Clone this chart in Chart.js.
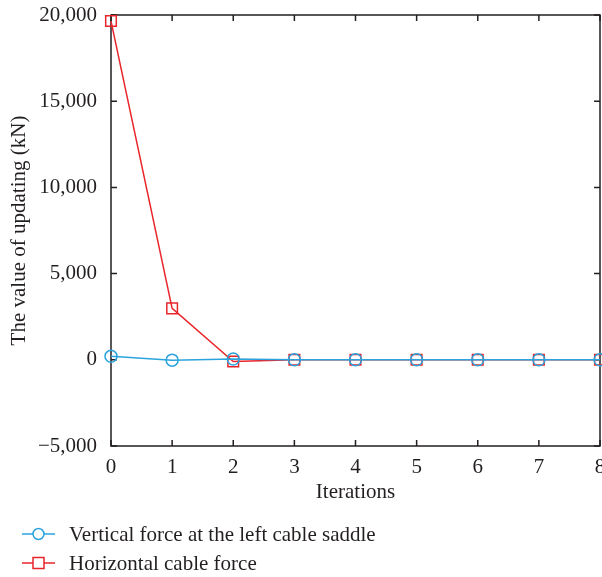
<!DOCTYPE html>
<html>
<head>
<meta charset="utf-8">
<script src="https://cdn.jsdelivr.net/npm/chart.js@4.4.0/dist/chart.umd.min.js"></script>
<style>
  html, body { margin: 0; padding: 0; background: #fff; }
  #wrap { width: 602px; height: 577px; }
</style>
</head>
<body>
<div id="wrap"><canvas id="updates" width="602" height="577"></canvas></div>
<script>
const iterations = [0, 1, 2, 3, 4, 5, 6, 7, 8];
const verticalSaddle = [200, -20, 50, 0, 0, 0, 0, 0, 0];
const horizontalCable = [19650, 2980, -100, 0, 0, 0, 0, 0, 0];
const yTicks = [-5000, 0, 5000, 10000, 15000, 20000];

const FONT = '"Liberation Serif", "DejaVu Serif", serif';
const INK = '#231f20';
const BLUE = '#2ba4de';
const RED = '#e8252b';

const toPoints = vals => iterations.map((x, i) => ({ x, y: vals[i] }));

// box frame with inward ticks on all four sides
const frameTicks = {
  id: 'frameTicks',
  beforeDatasetsDraw(chart) {
    const { ctx, chartArea: a, scales: { x, y } } = chart;
    const len = 6;
    ctx.save();
    ctx.strokeStyle = INK;
    ctx.lineWidth = 1.5;
    ctx.strokeRect(a.left, a.top, a.right - a.left, a.bottom - a.top);
    ctx.beginPath();
    iterations.forEach(v => {
      const px = x.getPixelForValue(v);
      ctx.moveTo(px, a.bottom); ctx.lineTo(px, a.bottom - len);
      ctx.moveTo(px, a.top); ctx.lineTo(px, a.top + len);
    });
    yTicks.forEach(v => {
      const py = y.getPixelForValue(v);
      ctx.moveTo(a.left, py); ctx.lineTo(a.left + len, py);
      ctx.moveTo(a.right, py); ctx.lineTo(a.right - len, py);
    });
    ctx.stroke();
    ctx.restore();
  }
};

// legend under the axis: line + marker + label
const sampleLegend = {
  id: 'sampleLegend',
  afterDraw(chart) {
    const { ctx } = chart;
    const rows = [534, 563];
    ctx.save();
    chart.data.datasets.forEach((ds, i) => {
      const cy = rows[i];
      ctx.strokeStyle = ds.borderColor;
      ctx.lineWidth = 1.5;
      ctx.beginPath();
      ctx.moveTo(22, cy); ctx.lineTo(55, cy);
      ctx.stroke();
      ctx.beginPath();
      if (ds.pointStyle === 'rect') {
        ctx.rect(33, cy - 5.5, 11, 11);
      } else {
        ctx.arc(38.5, cy, 5.5, 0, Math.PI * 2);
      }
      ctx.fillStyle = '#fff';
      ctx.fill();
      ctx.stroke();
      ctx.fillStyle = INK;
      ctx.font = '21px ' + FONT;
      ctx.textBaseline = 'middle';
      ctx.fillText(ds.label, 69, cy + 1);
    });
    ctx.restore();
  }
};

new Chart(document.getElementById('updates'), {
  type: 'line',
  data: {
    datasets: [
      {
        label: 'Vertical force at the left cable saddle',
        data: toPoints(verticalSaddle),
        borderColor: BLUE,
        backgroundColor: 'rgba(0,0,0,0)',
        borderWidth: 1.5,
        pointStyle: 'circle',
        pointRadius: 6,
        pointBorderWidth: 1.5,
        pointBorderColor: BLUE,
        tension: 0,
        clip: false
      },
      {
        label: 'Horizontal cable force',
        data: toPoints(horizontalCable),
        borderColor: RED,
        backgroundColor: 'rgba(0,0,0,0)',
        borderWidth: 1.5,
        pointStyle: 'rect',
        pointRadius: 7.5,
        pointBorderWidth: 1.5,
        pointBorderColor: RED,
        tension: 0,
        clip: false
      }
    ]
  },
  options: {
    responsive: false,
    animation: false,
    layout: { autoPadding: false, padding: { left: 3, right: 2, top: 15, bottom: 68 } },
    plugins: {
      legend: { display: false },
      tooltip: { enabled: false }
    },
    scales: {
      x: {
        type: 'linear',
        min: 0,
        max: 8,
        afterFit(s) { s.paddingLeft = 0; s.paddingRight = 0; s.height = 63; },
        ticks: { stepSize: 1, color: INK, font: { family: FONT, size: 21 }, padding: 9 },
        grid: { display: false, drawTicks: false },
        border: { display: false },
        title: { display: true, text: 'Iterations', color: INK, font: { family: FONT, size: 21 }, padding: { top: 3 } }
      },
      y: {
        min: -5000,
        max: 20000,
        afterBuildTicks(s) { s.ticks = yTicks.map(v => ({ value: v })); },
        afterFit(s) { s.paddingTop = 0; s.paddingBottom = 0; s.width = 108; },
        ticks: {
          color: INK,
          font: { family: FONT, size: 21 },
          padding: 14,
          callback: v => v.toLocaleString('en-US').replace('-', '\u2212')
        },
        grid: { display: false, drawTicks: false },
        border: { display: false },
        title: { display: true, text: 'The value of updating (kN)', color: INK, font: { family: FONT, size: 21 }, padding: { top: 4 } }
      }
    }
  },
  plugins: [frameTicks, sampleLegend]
});
</script>
</body>
</html>
